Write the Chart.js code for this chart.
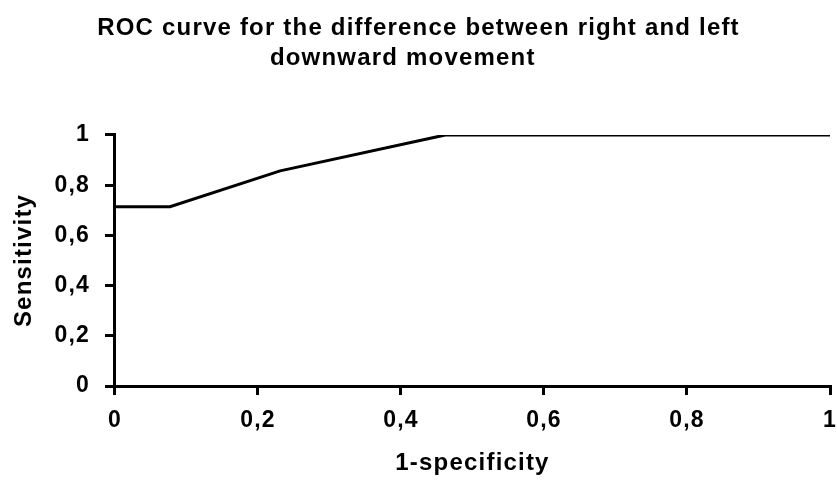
<!DOCTYPE html>
<html>
<head>
<meta charset="utf-8">
<script src="https://cdn.jsdelivr.net/npm/chart.js@4"></script>
<style>
  html, body { margin: 0; padding: 0; background: #fff; }
  #wrap { width: 837px; height: 483px; }
</style>
</head>
<body>
<div id="wrap"><canvas id="rocChart" width="837" height="483"></canvas></div>
<script>
// ROC points
const falsePositiveRate = [0, 0.077, 0.231, 0.462, 1];
const sensitivity = [0.714, 0.714, 0.857, 1, 1];
const tickValues = [0, 0.2, 0.4, 0.6, 0.8, 1];

const fmt = v => (Math.round(v * 10) / 10).toString().replace('.', ',');

// the original text is a little wider, spread the letters slightly
const letterSpacing = {
    id: 'letterSpacing',
    beforeUpdate(chart) { chart.ctx.letterSpacing = '1.2px'; },
    beforeDraw(chart) { chart.ctx.letterSpacing = '1.2px'; }
};

const ctx = document.getElementById('rocChart');
const rocChart = new Chart(ctx, {
    type: 'scatter',
    data: {
        datasets: [{
            data: falsePositiveRate.map((x, i) => ({ x: x, y: sensitivity[i] })),
            showLine: true,
            borderColor: '#000',
            borderWidth: 3,
            pointRadius: 0,
            tension: 0
        }]
    },
    plugins: [letterSpacing],
    options: {
        responsive: false,
        animation: false,
        layout: {
            padding: { left: 0, right: 0, top: 13, bottom: 5 }
        },
        scales: {
            x: {
                type: 'linear',
                min: 0,
                max: 1,
                afterBuildTicks: axis => { axis.ticks = tickValues.map(v => ({ value: v })); },
                // only leave room for half of the last label on the right
                afterFit: axis => { axis.paddingRight = 7; },
                grid: { drawOnChartArea: false, drawTicks: true, tickLength: 9, color: '#000', lineWidth: 3 },
                border: { color: '#000', width: 3 },
                ticks: {
                    color: '#000',
                    padding: 12,
                    maxRotation: 0,
                    font: { family: 'Liberation Sans', size: 23, weight: 'bold' },
                    callback: v => fmt(v)
                },
                title: {
                    display: true,
                    text: '1-specificity',
                    color: '#000',
                    padding: { top: 2, bottom: 0.6 },
                    font: { family: 'Liberation Sans', size: 24, weight: 'bold' }
                }
            },
            y: {
                type: 'linear',
                min: 0,
                max: 1,
                afterBuildTicks: axis => { axis.ticks = tickValues.map(v => ({ value: v })); },
                grid: { drawOnChartArea: false, drawTicks: true, tickLength: 10, color: '#000', lineWidth: 3 },
                border: { color: '#000', width: 3 },
                ticks: {
                    color: '#000',
                    padding: 15,
                    font: { family: 'Liberation Sans', size: 23, weight: 'bold' },
                    callback: v => fmt(v)
                },
                title: {
                    display: true,
                    text: 'Sensitivity',
                    color: '#000',
                    padding: { top: 10, bottom: 0.6 },
                    font: { family: 'Liberation Sans', size: 24, weight: 'bold' }
                }
            }
        },
        plugins: {
            legend: { display: false },
            tooltip: { enabled: false },
            title: {
                display: true,
                text: ['ROC curve for the difference between right and left', 'downward movement    '],
                color: '#000',
                padding: { top: 0, bottom: 61 },
                font: { family: 'Liberation Sans', size: 24, weight: 'bold', lineHeight: 1.27 }
            }
        }
    }
});
</script>
</body>
</html>
